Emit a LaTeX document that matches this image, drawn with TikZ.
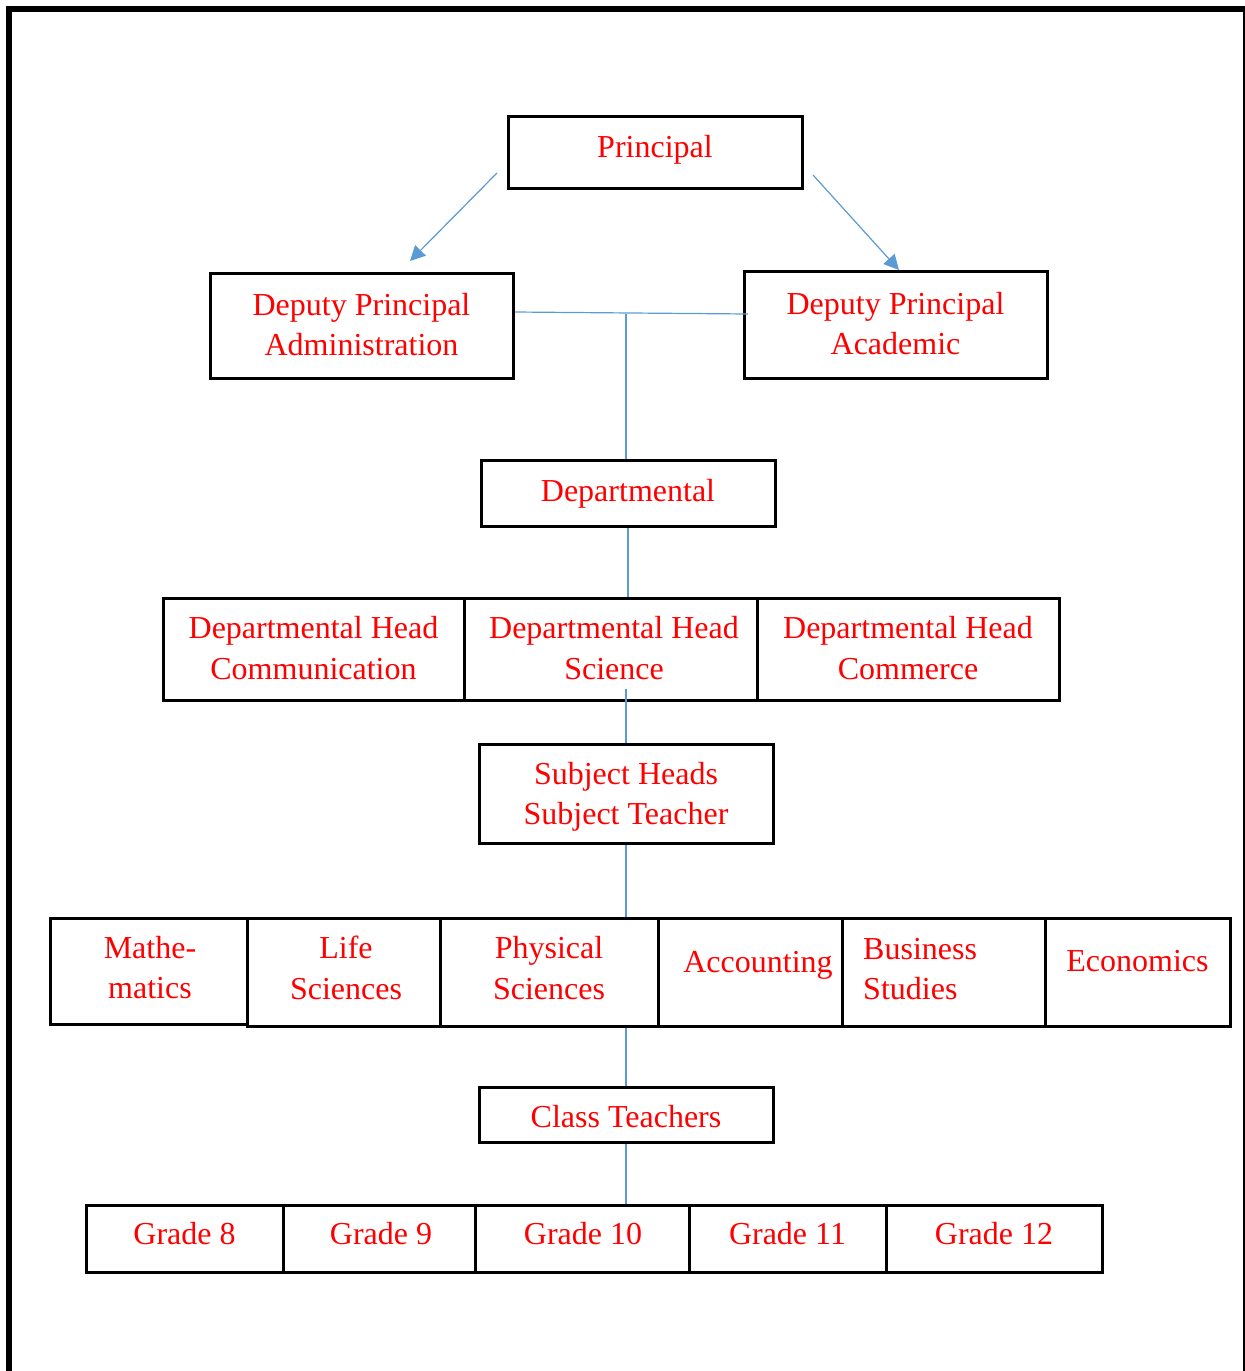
\documentclass[tikz,border=0pt]{standalone}
\usepackage{fontspec}
\setmainfont{Liberation Serif}
\usetikzlibrary{arrows.meta}
\definecolor{linkblue}{HTML}{5B9BD5}
% stacked lines, baseline on the first line
\newcommand{\lines}[1]{\begin{tabular}[t]{@{}c@{}}#1\end{tabular}}
\newcommand{\leftlines}[1]{\begin{tabular}[t]{@{}l@{}}#1\end{tabular}}
\begin{document}
\begin{tikzpicture}[x=1pt,y=-1pt,
  box/.style={draw=black, line width=3pt, inner sep=0pt},
  lbl/.style={text=red, anchor=base, inner sep=0pt,
    font=\fontsize{32}{40.5}\selectfont},
  link/.style={draw=linkblue, line width=1.2pt},
  arrowlink/.style={link, -{Triangle[length=15pt,width=15pt]}, fill=linkblue}]
\useasboundingbox (0,0) rectangle (1245,1371);

% page frame
\draw[line width=6pt] (9,1371) -- (9,9) -- (1245,9);
\draw[line width=2pt] (1244,12) -- (1244,1371);

% boxes
\node[box, minimum width=294, minimum height=72]  (pr)  at (655,152) {};
\node[box, minimum width=303, minimum height=105] (dpa) at (361.5,325.5) {};
\node[box, minimum width=303, minimum height=107] (dpc) at (895.5,324.5) {};
\node[box, minimum width=294, minimum height=66]  (dep) at (628,493) {};
\node[box, minimum width=301, minimum height=102] (dh1) at (313.5,649) {};
\node[box, minimum width=293, minimum height=102] (dh2) at (610.5,649) {};
\node[box, minimum width=302, minimum height=102] (dh3) at (908,649) {};
\node[box, minimum width=294, minimum height=99]  (sh)  at (626,793.5) {};
\node[box, minimum width=197, minimum height=106] (s1)  at (148.5,971) {};
\node[box, minimum width=193, minimum height=108] (s2)  at (343.5,972) {};
\node[box, minimum width=218, minimum height=108] (s3)  at (549,972) {};
\node[box, minimum width=184, minimum height=108] (s4)  at (750,972) {};
\node[box, minimum width=203, minimum height=108] (s5)  at (943.5,972) {};
\node[box, minimum width=185, minimum height=108] (s6)  at (1137.5,972) {};
\node[box, minimum width=294, minimum height=55]  (ct)  at (626,1114.5) {};
\node[box, minimum width=197, minimum height=67]  (g8)  at (184.5,1238.5) {};
\node[box, minimum width=192, minimum height=67]  (g9)  at (379,1238.5) {};
\node[box, minimum width=214, minimum height=67]  (g10) at (582,1238.5) {};
\node[box, minimum width=197, minimum height=67]  (g11) at (787.5,1238.5) {};
\node[box, minimum width=216, minimum height=67]  (g12) at (994,1238.5) {};

% box texts, placed on their first baseline
\node[lbl] (pr-t)  at (655,157) {Principal};
\node[lbl] (dpa-t) at (361.5,315) {\lines{Deputy Principal\\Administration}};
\node[lbl] (dpc-t) at (895.5,314) {\lines{Deputy Principal\\Academic}};
\node[lbl] (dep-t) at (628,501) {Departmental};
\node[lbl] (dh1-t) at (313.5,638.5) {\lines{Departmental Head\\Communication}};
\node[lbl] (dh2-t) at (614,638.5) {\lines{Departmental Head\\Science}};
\node[lbl] (dh3-t) at (908,638.5) {\lines{Departmental Head\\Commerce}};
\node[lbl] (sh-t)  at (626,784.3) {\lines{Subject Heads\\Subject Teacher}};
\node[lbl] (s1-t)  at (150,958.3) {\lines{Mathe-\\matics}};
\node[lbl] (s2-t)  at (346,958.5) {\lines{Life\\Sciences}};
\node[lbl] (s3-t)  at (549,958.5) {\lines{Physical\\Sciences}};
\node[lbl] (s4-t)  at (758,972.7) {Accounting};
\node[lbl, anchor=base west] (s5-t) at (863,959) {\leftlines{Business\\Studies}};
\node[lbl] (s6-t)  at (1137.5,971.7) {Economics};
\node[lbl] (ct-t)  at (626,1127.7) {Class Teachers};
\node[lbl] (g8-t)  at (184.5,1244.3) {Grade 8};
\node[lbl] (g9-t)  at (381,1244.3) {Grade 9};
\node[lbl] (g10-t) at (583,1244.3) {Grade 10};
\node[lbl] (g11-t) at (787.5,1244.3) {Grade 11};
\node[lbl] (g12-t) at (994,1244.3) {Grade 12};

% connector end points
\coordinate (a1s) at (497,173);
\coordinate (a1e) at (410,261);
\coordinate (a2s) at (813,175);
\coordinate (a2e) at (899,270);
\coordinate (hL) at (515,312);
\coordinate (hR) at (748,314);
\coordinate (hM) at (626,313.5);
\coordinate (sci) at (626,689);

% connectors
\draw[arrowlink] (a1s) -- (a1e);
\draw[arrowlink] (a2s) -- (a2e);
\draw[link] (hL) -- (hR);
\draw[link] (hM) -- (hM |- dep.north);
\draw[link] (dep.south) -- (dep.south |- dh2.north);
\draw[link] (sci) -- (sci |- sh.north);
\draw[link] (sh.south) -- (sh.south |- s3.north);
\draw[link] (ct.north |- s3.south) -- (ct.north);
\draw[link] (ct.south) -- (ct.south |- g10.north);
\end{tikzpicture}
\end{document}
